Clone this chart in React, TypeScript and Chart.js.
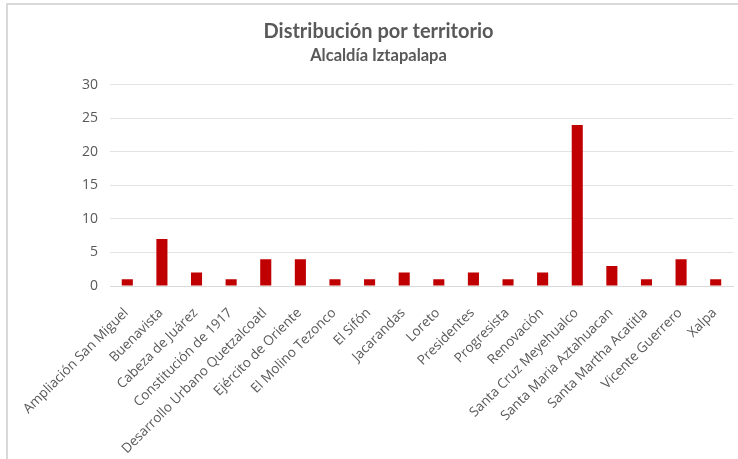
import React, { useEffect, useRef } from "react";
import { Chart, registerables } from "chart.js";

Chart.register(...registerables);

const categories = [
  "Ampliación San Miguel",
  "Buenavista",
  "Cabeza de Juárez",
  "Constitución de 1917",
  "Desarrollo Urbano Quetzalcoatl",
  "Ejército de Oriente",
  "El Molino Tezonco",
  "El Sifón",
  "Jacarandas",
  "Loreto",
  "Presidentes",
  "Progresista",
  "Renovación",
  "Santa Cruz Meyehualco",
  "Santa Maria Aztahuacan",
  "Santa Martha Acatitla",
  "Vicente Guerrero",
  "Xalpa",
];

const values = [1, 7, 2, 1, 4, 4, 1, 1, 2, 1, 2, 1, 2, 24, 3, 1, 4, 1];

const titleText = "Distribución por territorio";
const subtitleText = "Alcaldía Iztapalapa";
const yMin = 0;
const yMax = 30;
const yStep = 5;

export default function App() {
  const canvasRef = useRef<HTMLCanvasElement | null>(null);

  useEffect(() => {
    if (!canvasRef.current) return;
    const chart = new Chart(canvasRef.current, {
      type: "bar",
      data: {
        labels: categories,
        datasets: [
          {
            data: values,
            backgroundColor: "#C00000",
            borderWidth: 0,
            barPercentage: 0.32,
            categoryPercentage: 1,
          },
        ],
      },
      options: {
        responsive: false,
        animation: false,
        layout: { padding: { left: 16, right: 17, top: 0, bottom: 0 } },
        plugins: {
          legend: { display: false },
          tooltip: { enabled: false },
          title: {
            display: true,
            text: titleText,
            color: "#595959",
            font: { family: "Lato, sans-serif", size: 20, weight: "bold" },
            padding: { top: 15, bottom: 1 },
          },
          subtitle: {
            display: true,
            text: subtitleText,
            color: "#595959",
            font: { family: "Lato, sans-serif", size: 16.5, weight: "bold" },
            padding: { top: 1, bottom: 19 },
          },
        },
        scales: {
          x: {
            grid: { display: false, drawTicks: false },
            border: { display: true, color: "#d9d9d9", width: 1 },
            ticks: {
              color: "#595959",
              font: { family: "'Open Sans', sans-serif", size: 13.5 },
              minRotation: 45,
              maxRotation: 45,
              autoSkip: false,
              padding: 19,
              labelOffset: -1,
            },
            afterFit: (scale: any) => {
              scale.height = 174;
              scale.paddingLeft = 0;
              scale.paddingRight = 0;
            },
          },
          y: {
            min: yMin,
            max: yMax,
            grid: { color: "#e3e3e3", lineWidth: 1, drawTicks: false },
            border: { display: false },
            ticks: {
              stepSize: yStep,
              color: "#595959",
              font: { family: "'Open Sans', sans-serif", size: 14 },
              padding: 12,
            },
            afterFit: (scale: any) => {
              scale.width = 86;
            },
          },
        },
      },
    });
    return () => chart.destroy();
  }, []);

  return (
    <div
      style={{
        position: "fixed",
        left: 0,
        top: 0,
        width: 738,
        height: 459,
        overflow: "hidden",
        background: "#ffffff",
      }}
    >
      <div
        style={{
          position: "absolute",
          left: 6,
          top: 3,
          width: 746,
          height: 460,
          borderLeft: "2px solid #d9d9d9",
          borderTop: "2px solid #d9d9d9",
          boxSizing: "border-box",
        }}
      >
        <canvas
          ref={canvasRef}
          width={742}
          height={455}
          style={{ display: "block", width: 742, height: 455 }}
        />
      </div>
    </div>
  );
}
